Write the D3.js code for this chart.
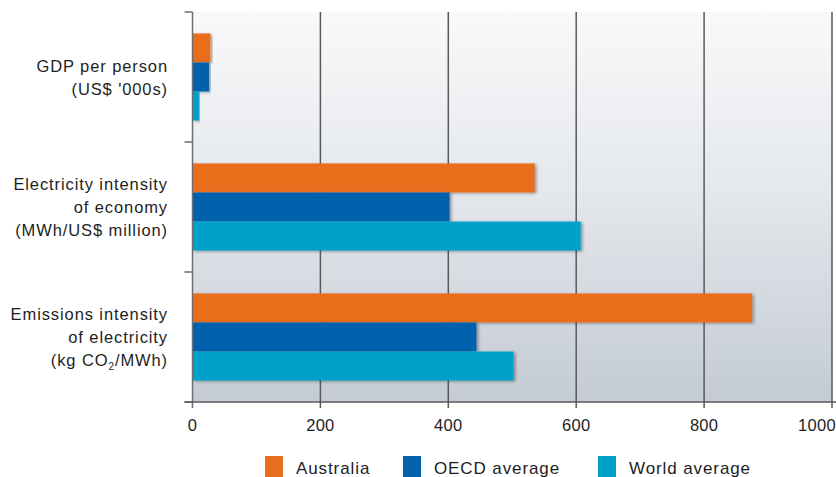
<!DOCTYPE html>
<html>
<head>
<meta charset="utf-8">
<script src="https://cdn.jsdelivr.net/npm/d3@7"></script>
<style>
  body { margin: 0; background: #fff; }
  text { font-family: "Liberation Sans", Arial, sans-serif; fill: #1e1e1e; }
</style>
</head>
<body>
<div id="chart"></div>
<script>
// categories (top to bottom), each label split into lines
const categories = ["gdp", "elec", "emis"];
const categoryLines = [
    ["GDP per person", "(US$ '000s)"],
    ["Electricity intensity", "of economy", "(MWh/US$ million)"],
    ["Emissions intensity", "of electricity", "(kg CO2/MWh)"]
];
const seriesNames = ["Australia", "OECD average", "World average"];
const seriesColors = ["#e86e1f", "#0562ae", "#00a0cb"];
// values per category: Australia, OECD, World
const australia = [28, 535, 875];
const oecd = [26, 402, 444];
const world = [10, 607, 502];
const xTicks = [0, 200, 400, 600, 800, 1000];

const width = 836, height = 477;
const margin = { top: 12, right: 4, bottom: 75, left: 192.5 };

const svg = d3.select("#chart").append("svg")
    .attr("width", width)
    .attr("height", height);

const defs = svg.append("defs");
const grad = defs.append("linearGradient")
    .attr("id", "bg").attr("x1", 0).attr("y1", 0).attr("x2", 0).attr("y2", 1);
grad.append("stop").attr("offset", "0%").attr("stop-color", "#f8f9fa");
grad.append("stop").attr("offset", "45%").attr("stop-color", "#e5e8ec");
grad.append("stop").attr("offset", "100%").attr("stop-color", "#c4cbd5");

const shadow = defs.append("filter").attr("id", "shadow")
    .attr("x", "-5%").attr("y", "-20%").attr("width", "115%").attr("height", "160%");
shadow.append("feDropShadow")
    .attr("dx", 2).attr("dy", 1).attr("stdDeviation", 1.5)
    .attr("flood-color", "#000").attr("flood-opacity", 0.35);

const x = d3.scaleLinear()
    .domain([0, 1000])
    .range([margin.left, width - margin.right]);

const y = d3.scaleBand()
    .domain(categories)
    .range([margin.top, height - margin.bottom])
    .paddingInner(0.33)
    .paddingOuter(0.165);

const ySeries = d3.scaleBand()
    .domain(seriesNames)
    .range([0, y.bandwidth()]);

const color = d3.scaleOrdinal().domain(seriesNames).range(seriesColors);

const plotTop = margin.top, plotBottom = height - margin.bottom;
const step = y.step();

// background
svg.append("rect")
    .attr("x", x(0)).attr("y", plotTop)
    .attr("width", x(1000) - x(0))
    .attr("height", plotBottom - plotTop)
    .attr("fill", "url(#bg)");

// gridlines
svg.append("g")
    .selectAll("line")
    .data(xTicks.slice(1))
    .join("line")
    .attr("x1", d => x(d)).attr("x2", d => x(d))
    .attr("y1", plotTop).attr("y2", plotBottom + 6)
    .attr("stroke", "#58595b")
    .attr("stroke-width", 1.5);

// bars
const table = categories.map((c, i) => ({
    cat: c,
    values: [australia[i], oecd[i], world[i]]
}));

const groups = svg.append("g")
    .selectAll("g")
    .data(table)
    .join("g")
    .attr("transform", d => `translate(0,${y(d.cat)})`);

groups.selectAll("rect")
    .data(d => d.values.map((v, j) => ({ name: seriesNames[j], value: v })))
    .join("rect")
    .attr("x", x(0))
    .attr("y", d => ySeries(d.name))
    .attr("width", d => x(d.value) - x(0))
    .attr("height", ySeries.bandwidth())
    .attr("fill", d => color(d.name))
    .attr("filter", "url(#shadow)");

// left axis line + ticks at band boundaries
const boundaries = d3.range(categories.length + 1).map(i => plotTop + i * step);
svg.append("line")
    .attr("x1", x(0)).attr("x2", x(0))
    .attr("y1", plotTop).attr("y2", plotBottom + 6)
    .attr("stroke", "#6d6e71").attr("stroke-width", 1.5);
svg.append("g")
    .selectAll("line")
    .data(boundaries)
    .join("line")
    .attr("x1", x(0) - 8).attr("x2", x(0))
    .attr("y1", d => d).attr("y2", d => d)
    .attr("stroke", "#6d6e71").attr("stroke-width", 1.5);

// bottom axis line
svg.append("line")
    .attr("x1", x(0) - 8).attr("x2", width)
    .attr("y1", plotBottom).attr("y2", plotBottom)
    .attr("stroke", "#58595b").attr("stroke-width", 1.5);

// x tick labels
svg.append("g")
    .selectAll("text")
    .data(xTicks)
    .join("text")
    .attr("x", (d, i) => i === xTicks.length - 1 ? width : x(d))
    .attr("y", plotBottom + 29)
    .attr("text-anchor", (d, i) => i === xTicks.length - 1 ? "end" : "middle")
    .style("font-size", "16.5px")
    .style("letter-spacing", "0.3px")
    .text(d => d);

// category labels
const lineH = 23;
const labels = svg.append("g")
    .selectAll("text")
    .data(table)
    .join("text")
    .attr("text-anchor", "end")
    .style("font-size", "16.5px")
    .style("letter-spacing", "0.9px")
    .attr("y", (d, i) => y(d.cat) + y.bandwidth() / 2 - (categoryLines[i].length - 1) * lineH / 2 + 6);

labels.each(function(d, i) {
    const t = d3.select(this);
    categoryLines[i].forEach((line, k) => {
        const ts = t.append("tspan")
            .attr("x", 168)
            .attr("dy", k === 0 ? 0 : lineH);
        if (line.includes("CO2")) {
            const parts = line.split("CO2");
            ts.text(parts[0] + "CO");
            t.append("tspan").attr("dy", 4).style("font-size", "10px").text("2");
            t.append("tspan").attr("dy", -4).text(parts[1]);
        } else {
            ts.text(line);
        }
    });
});

// legend
const legendX = [265, 403, 598];
const legend = svg.append("g")
    .selectAll("g")
    .data(seriesNames)
    .join("g")
    .attr("transform", (d, i) => `translate(${legendX[i]},456)`);
legend.append("rect")
    .attr("width", 18).attr("height", 21)
    .attr("fill", d => color(d));
legend.append("text")
    .attr("x", 31).attr("y", 18)
    .style("font-size", "17px")
    .style("letter-spacing", "0.9px")
    .text(d => d);
</script>
</body>
</html>
